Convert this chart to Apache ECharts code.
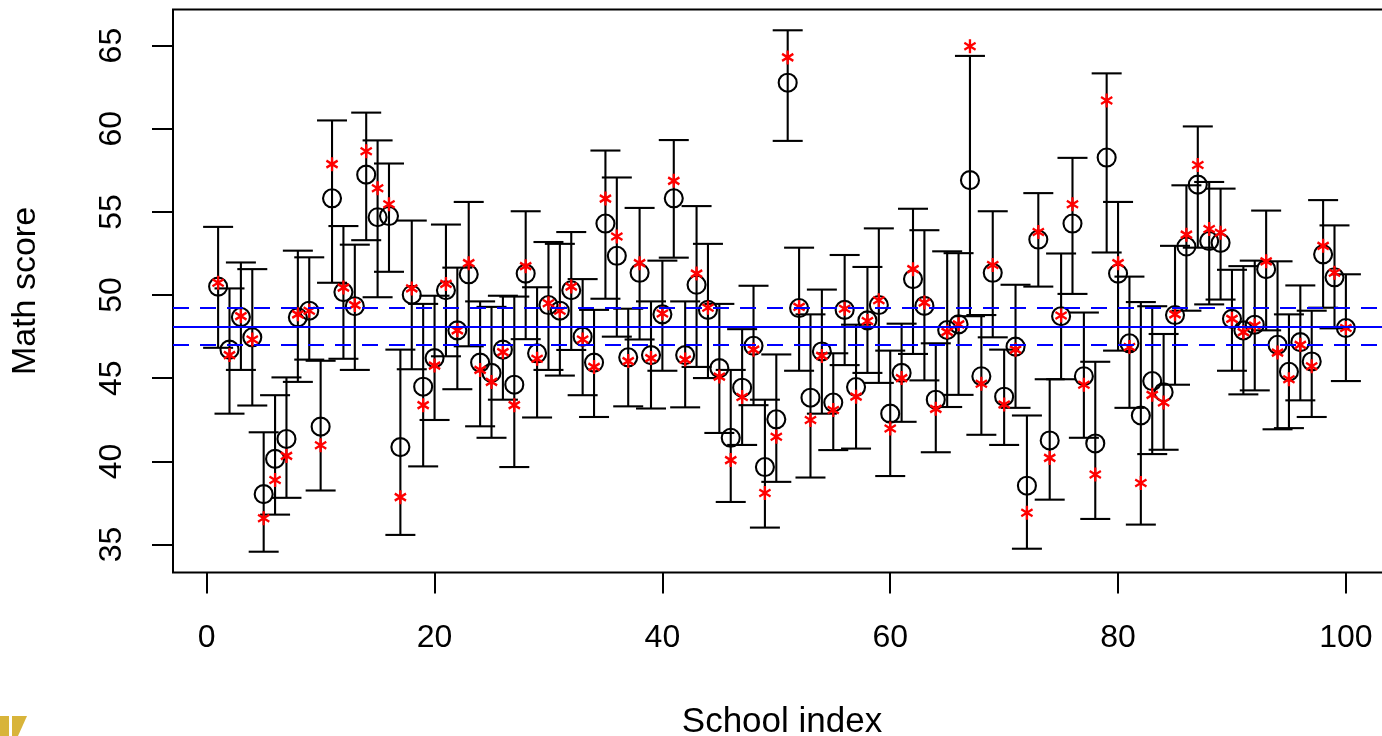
<!DOCTYPE html>
<html>
<head>
<meta charset="utf-8">
<script src="https://cdn.jsdelivr.net/npm/echarts@6/dist/echarts.min.js"></script>
<style>
html, body { margin: 0; padding: 0; background: #fff; }
#echart { width: 1382px; height: 736px; }
</style>
</head>
<body>
<div id="echart"></div>
<script>
// school estimates (circles), raw means (red *), interval bounds
var schoolIndex = [];
for (var k = 1; k <= 100; k++) schoolIndex.push(k);

var estimate = [
    50.51,46.72,48.68,47.46,38.03,40.15,41.35,48.66,49.06,42.09,
    55.82,50.18,49.33,57.24,54.68,54.75,40.86,50.02,44.49,46.21,
    50.29,47.88,51.25,45.94,45.32,46.72,44.61,51.29,46.50,49.40,
    49.06,50.29,47.50,45.94,54.30,52.36,46.26,51.34,46.39,48.84,
    55.82,46.39,50.62,49.11,45.61,41.42,44.43,46.95,39.66,42.53,
    62.77,49.22,43.83,46.61,43.54,49.11,44.47,48.48,49.40,42.87,
    45.32,50.96,49.35,43.71,47.90,48.24,56.91,45.12,51.34,43.89,
    46.90,38.54,53.34,41.26,48.73,54.30,45.12,41.08,58.27,51.29,
    47.10,42.76,44.83,44.16,48.80,52.92,56.64,53.25,53.14,48.57,
    47.88,48.22,51.56,47.01,45.39,47.17,46.01,52.45,51.07,48.02
];
var rawMean = [
    50.74,46.39,48.73,47.33,36.58,38.88,40.33,48.84,49.06,40.97,
    57.87,50.45,49.40,58.65,56.42,55.46,37.85,50.40,43.38,45.76,
    50.67,47.88,51.92,45.50,44.78,46.57,43.38,51.74,46.17,49.51,
    49.06,50.51,47.33,45.68,55.80,53.52,46.03,51.92,46.21,48.89,
    56.87,46.12,51.29,49.24,45.10,40.08,43.87,46.72,38.10,41.48,
    64.29,49.29,42.49,46.34,43.09,49.18,43.89,48.44,49.69,41.98,
    45.01,51.56,49.55,43.16,47.79,48.24,64.96,44.67,51.81,43.42,
    46.72,36.91,53.79,40.21,48.77,55.46,44.61,39.21,61.70,51.92,
    46.88,38.70,44.00,43.54,48.84,53.63,57.82,53.97,53.75,48.57,
    47.77,48.17,52.03,46.54,44.94,47.01,45.72,52.96,51.34,48.02
];
var upper = [
    54.10,50.40,51.96,51.56,41.75,43.98,45.05,52.67,52.27,46.05,
    60.50,54.15,53.03,60.97,59.30,57.91,46.72,54.48,49.47,49.96,
    54.24,51.65,55.60,49.62,49.29,49.96,49.91,55.04,50.47,53.19,
    53.08,53.79,50.96,49.11,58.69,57.07,49.18,55.24,49.62,52.07,
    59.32,49.62,55.35,53.08,49.47,45.50,47.95,50.56,43.71,46.43,
    65.92,52.85,48.84,50.33,46.50,52.41,48.22,51.69,54.01,46.66,
    48.28,55.19,53.90,47.10,52.63,52.52,64.38,48.80,55.04,46.72,
    50.62,42.76,56.13,44.94,52.50,58.25,48.95,45.99,63.33,55.60,
    51.11,49.58,49.33,47.66,52.96,56.60,60.14,56.80,56.40,51.52,
    51.74,52.07,55.08,52.03,48.84,50.58,49.06,55.71,54.19,51.25
];
var lower = [
    46.83,42.87,45.50,43.36,34.57,36.80,37.81,44.78,46.12,38.25,
    50.74,46.17,45.50,53.30,49.87,51.40,35.58,45.54,39.70,42.49,
    46.32,44.34,46.92,42.11,41.42,43.71,39.66,47.35,42.64,45.50,
    45.16,46.70,43.98,42.67,49.78,47.50,43.31,47.33,43.18,45.45,
    52.25,43.25,45.68,45.01,41.71,37.56,40.99,43.38,36.02,38.77,
    59.27,45.45,39.03,42.87,40.68,45.79,40.77,45.32,44.72,39.12,
    42.38,46.46,44.87,40.55,43.27,44.00,48.73,41.60,47.46,40.99,
    43.22,34.75,50.51,37.70,44.94,50.07,41.42,36.54,52.56,46.66,
    43.22,36.20,40.44,40.70,44.61,49.06,52.85,49.44,49.73,45.45,
    44.03,44.27,47.88,41.93,42.00,43.67,42.67,49.24,48.00,44.83
];
var overallMean = 48.08;
var meanBand = [47.04, 49.22];
var xTicks = [0, 20, 40, 60, 80, 100];
var yTicks = [35, 40, 45, 50, 55, 60, 65];

var myChart = echarts.init(document.getElementById('echart'));

var barData = [], circleData = [], starData = [];
for (var i = 0; i < schoolIndex.length; i++) {
    barData.push([schoolIndex[i], lower[i], upper[i]]);
    circleData.push([schoolIndex[i], estimate[i]]);
    starData.push([schoolIndex[i], rawMean[i]]);
}

var fontName = '"Liberation Sans", Arial, sans-serif';
var capHalf = 15;

function errorBar(params, api) {
    var x = api.value(0);
    var lo = api.coord([x, api.value(1)]);
    var hi = api.coord([x, api.value(2)]);
    var st = {stroke: '#000', lineWidth: 2.1};
    return {
        type: 'group',
        children: [
            {type: 'line', shape: {x1: lo[0], y1: lo[1], x2: hi[0], y2: hi[1]}, style: st},
            {type: 'line', shape: {x1: hi[0] - capHalf, y1: hi[1], x2: hi[0] + capHalf, y2: hi[1]}, style: st},
            {type: 'line', shape: {x1: lo[0] - capHalf, y1: lo[1], x2: lo[0] + capHalf, y2: lo[1]}, style: st}
        ]
    };
}

var option = {
    animation: false,
    backgroundColor: '#fff',
    grid: {
        left: 173,
        top: 9.5,
        width: 1218,
        height: 563,
        show: true,
        borderColor: '#000',
        borderWidth: 2,
        backgroundColor: 'transparent',
        outerBoundsMode: 'none',
        containLabel: false
    },
    xAxis: {
        type: 'value',
        min: -2.96,
        max: 103.96,
        name: 'School index',
        nameLocation: 'middle',
        nameGap: 132,
        nameTextStyle: {fontSize: 35, color: '#000', fontFamily: fontName},
        splitLine: {show: false},
        axisLine: {show: false, onZero: false},
        axisTick: {
            show: true,
            length: 21,
            customValues: xTicks,
            lineStyle: {color: '#000', width: 2}
        },
        axisLabel: {
            customValues: xTicks,
            margin: 50,
            fontSize: 32,
            color: '#000',
            fontFamily: fontName
        }
    },
    yAxis: {
        type: 'value',
        min: 33.32,
        max: 67.17,
        name: 'Math score',
        nameLocation: 'middle',
        nameGap: 130,
        nameTextStyle: {fontSize: 34, color: '#000', fontFamily: fontName},
        splitLine: {show: false},
        axisLine: {show: false, onZero: false},
        axisTick: {
            show: true,
            length: 21,
            customValues: yTicks,
            lineStyle: {color: '#000', width: 2}
        },
        axisLabel: {
            customValues: yTicks,
            rotate: 90,
            margin: 45,
            fontSize: 32,
            color: '#000',
            fontFamily: fontName
        }
    },
    graphic: [
        {type: 'rect', shape: {x: 0, y: 716, width: 9, height: 20}, style: {fill: '#d8b43a'}},
        {type: 'polygon', shape: {points: [[12, 716], [27, 716], [18, 736], [12, 736]]}, style: {fill: '#d8b43a'}}
    ],
    series: [
        {
            type: 'custom',
            renderItem: errorBar,
            data: barData,
            z: 2,
            markLine: {
                silent: true,
                symbol: ['none', 'none'],
                label: {show: false},
                data: [
                    {yAxis: overallMean, lineStyle: {color: '#0000ff', width: 2, type: 'solid'}},
                    {yAxis: meanBand[0], lineStyle: {color: '#0000ff', width: 2, type: [16, 11]}},
                    {yAxis: meanBand[1], lineStyle: {color: '#0000ff', width: 2, type: [16, 11]}}
                ]
            }
        },
        {
            type: 'scatter',
            data: circleData,
            symbol: 'circle',
            symbolSize: 18,
            z: 3,
            itemStyle: {color: 'rgba(0,0,0,0)', borderColor: '#000', borderWidth: 2.1, opacity: 1}
        },
        {
            type: 'scatter',
            data: starData,
            symbol: 'path://M0,-10L0,10M-8.66,-5L8.66,5M-8.66,5L8.66,-5',
            symbolSize: [13, 14],
            symbolKeepAspect: true,
            z: 4,
            itemStyle: {color: 'rgba(0,0,0,0)', borderColor: '#ff0000', borderWidth: 2.4, opacity: 1}
        }
    ]
};
myChart.setOption(option);
</script>
</body>
</html>
